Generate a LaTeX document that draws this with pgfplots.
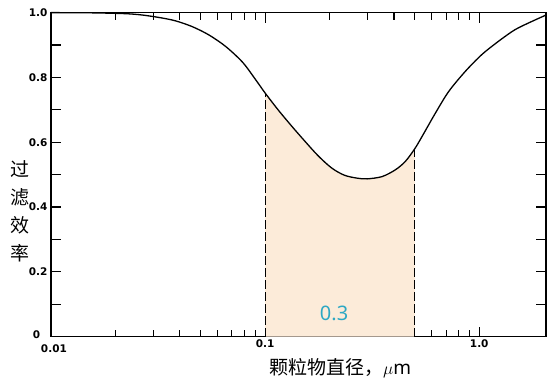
\documentclass[border=0pt]{standalone}
\usepackage{fontspec}
\setmainfont{Noto Sans}
\newfontfamily\cjk{Noto Sans CJK SC}
\newfontfamily\tickfont{DejaVu Sans}
\usepackage{pgfplots}
\pgfplotsset{compat=1.18}
\definecolor{fillc}{RGB}{252,235,217}
\definecolor{labc}{RGB}{45,168,196}
\begin{document}
\begin{tikzpicture}
\begin{axis}[
  xmode=log, log basis x=10,
  scale only axis, width=495pt, height=324pt,
  xmin=0.01, xmax=2.05, ymin=0, ymax=1,
  xtick={0.01,0.1,1}, xticklabels={,0.1,1.0},
  minor xtick={0.02,0.03,0.04,0.05,0.06,0.07,0.08,0.09,0.2,0.3,0.4,0.5,0.6,0.7,0.8,0.9},
  ytick={0,0.1,0.2,0.3,0.4,0.5,0.6,0.7,0.8,0.9,1},
  yticklabels={,,0.2,,0.4,,0.6,,0.8,,1.0},
  tick align=inside,
  major tick length=10pt, minor tick length=7pt,
  tick style={black, line width=1.1pt},
  axis line style={line width=1.5pt},
  ticklabel style={font=\tickfont\bfseries\fontsize{10.5}{11}\selectfont},
  clip=false,
]
\addplot[draw=none, fill=fillc, smooth] coordinates {
(0.1,0.752) (0.115,0.700) (0.133,0.650) (0.153,0.604) (0.177,0.558) (0.205,0.520) (0.235,0.498) (0.27,0.489) (0.30,0.487) (0.352,0.494) (0.406,0.515) (0.452,0.541) (0.5,0.580)
} \closedcycle;
\addplot[black, line width=1.1pt, dash pattern=on 9pt off 3pt] coordinates {(0.1,0) (0.1,0.752)};
\addplot[black, line width=1.1pt, dash pattern=on 9pt off 3pt] coordinates {(0.5,0) (0.5,0.580)};
\addplot[black, line width=1.3pt, smooth] coordinates {
(0.01,1.0) (0.015,0.9995) (0.0219,0.997) (0.0264,0.993) (0.032,0.985) (0.038,0.975) (0.0456,0.957) (0.0547,0.931) (0.0656,0.895) (0.0787,0.846) (0.091,0.790) (0.1,0.752) (0.115,0.700) (0.133,0.650) (0.153,0.604) (0.177,0.558) (0.205,0.520) (0.235,0.498) (0.27,0.489) (0.30,0.487) (0.352,0.494) (0.406,0.515) (0.452,0.541) (0.5,0.580) (0.541,0.618) (0.623,0.689) (0.719,0.756) (0.859,0.818) (1.026,0.870) (1.227,0.911) (1.466,0.947) (1.75,0.972) (1.98,0.988) (2.05,0.993)
};
\node[text=labc, font=\fontsize{20}{20}\selectfont] at (axis cs:0.21,0.073) {0.3};
\node[font=\tickfont\bfseries\fontsize{10.5}{11}\selectfont] at (rel axis cs:-0.029,0.006) {0};
\node[font=\tickfont\bfseries\fontsize{10.5}{11}\selectfont] at (rel axis cs:0.006,-0.036) {0.01};
\node[font=\cjk\fontsize{19}{28}\selectfont, align=center] at (rel axis cs:-0.063,0.386) {过\\滤\\效\\率};
\node[font=\cjk\fontsize{19}{20}\selectfont] at (rel axis cs:0.584,-0.097) {颗粒物直径，$\mu$\fontspec{Noto Sans}m};
\path (rel axis cs:-0.103,-0.140) rectangle (rel axis cs:1.0202,1.039);
\end{axis}
\end{tikzpicture}
\end{document}
